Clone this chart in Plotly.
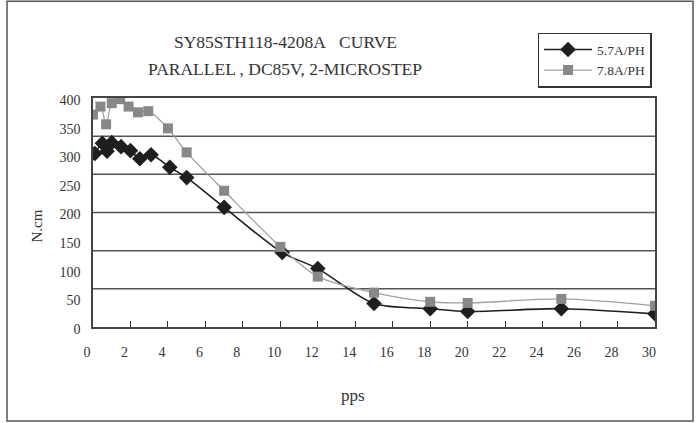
import plotly.graph_objects as go

# ---- data ----
pps_57 = [0.1, 0.5, 0.75, 1.0, 1.5, 2.0, 2.5, 3.1, 4.1, 5.0, 7.0, 10.1, 12.0, 15.0, 18.0, 20.0, 25.0, 30.0]
torque_57 = [303, 321, 307, 322, 315, 308, 294, 301, 279, 261, 209, 130, 102, 41, 32, 27, 32, 23]

pps_78 = [0.0, 0.4, 0.7, 1.0, 1.45, 1.9, 2.4, 2.95, 4.0, 5.0, 7.0, 10.0, 12.0, 15.0, 18.0, 20.0, 25.0, 30.0]
torque_78 = [371, 385, 354, 391, 398, 385, 375, 377, 347, 305, 238, 140, 88, 60, 44, 42, 49, 37]

x_ticks = list(range(0, 31, 2))
y_ticks = list(range(0, 401, 50))
y_grid = [400 / 6, 800 / 6, 200, 1600 / 6, 2000 / 6]

title1 = "SY85STH118-4208A&nbsp;&nbsp;&nbsp;CURVE"
title2 = "PARALLEL , DC85V, 2-MICROSTEP"

FONT = "Liberation Serif"
TXT = "#333333"

fig = go.Figure()
fig.add_trace(go.Scatter(
    x=pps_57, y=torque_57, name="5.7A/PH", mode="lines+markers",
    line=dict(color="#1e1e1e", width=1.6, shape="spline", smoothing=0.8),
    marker=dict(symbol="diamond", size=12, color="#1e1e1e"),
))
fig.add_trace(go.Scatter(
    x=pps_78, y=torque_78, name="7.8A/PH", mode="lines+markers",
    line=dict(color="#a0a0a0", width=1.3, shape="spline", smoothing=0.8),
    marker=dict(symbol="square", size=10, color="#888888"),
))

# horizontal gridlines of the original (6 equal bands), placed through the y scale
grid_shapes = [
    dict(type="line", xref="paper", yref="y", x0=0, x1=1, y0=v, y1=v,
         line=dict(color="#555555", width=1.5), layer="below")
    for v in y_grid
]

fig.update_layout(
    width=696, height=423,
    margin=dict(l=93, r=41, t=98, b=96),
    paper_bgcolor="white", plot_bgcolor="white",
    font=dict(family=FONT, color=TXT, size=13),
    showlegend=True,
    legend=dict(
        x=0.791, y=1.285, xanchor="left", yanchor="top",
        bordercolor="#333333", borderwidth=1.5, bgcolor="white",
        font=dict(family=FONT, size=13.5, color=TXT),
        tracegroupgap=0, itemwidth=48,
    ),
    xaxis=dict(
        range=[0, 30], tickvals=x_ticks,
        ticks="inside", ticklen=6, tickcolor="#333333", tickwidth=1.4,
        tickfont=dict(family=FONT, size=14, color=TXT),
        ticklabelstandoff=11, ticklabelshift=-6,
        showgrid=False, zeroline=False,
        showline=True, linecolor="#444444", linewidth=1.5, mirror=True,
    ),
    yaxis=dict(
        range=[0, 400], tickvals=y_ticks, ticks="",
        tickfont=dict(family=FONT, size=14, color=TXT),
        ticklabelstandoff=8, ticklabelshift=2,
        showgrid=False, zeroline=False,
        showline=True, linecolor="#444444", linewidth=1.5, mirror=True,
    ),
    annotations=[
        dict(text=title1, x=0.342, y=1.244, xref="paper", yref="paper",
             xanchor="center", yanchor="middle",
             showarrow=False, font=dict(family=FONT, size=17.5, color=TXT)),
        dict(text=title2, x=0.342, y=1.126, xref="paper", yref="paper",
             xanchor="center", yanchor="middle",
             showarrow=False, font=dict(family=FONT, size=17.5, color=TXT)),
        dict(text="N.cm", x=-0.100, y=0.442, xref="paper", yref="paper",
             xanchor="center", yanchor="middle",
             showarrow=False, textangle=-90, font=dict(family=FONT, size=15, color=TXT)),
        dict(text="pps", x=0.463, y=-0.297, xref="paper", yref="paper",
             xanchor="center", yanchor="middle",
             showarrow=False, font=dict(family=FONT, size=17, color=TXT)),
    ],
    shapes=grid_shapes + [
        dict(type="rect", xref="paper", yref="paper",
             x0=-0.153, x1=1.0676, y0=-0.41, y1=1.423,
             line=dict(color="#555555", width=1.5), layer="below"),
    ],
)

fig.write_html("out.html", config={"displayModeBar": False},
               post_script="document.body.style.margin='0';")
